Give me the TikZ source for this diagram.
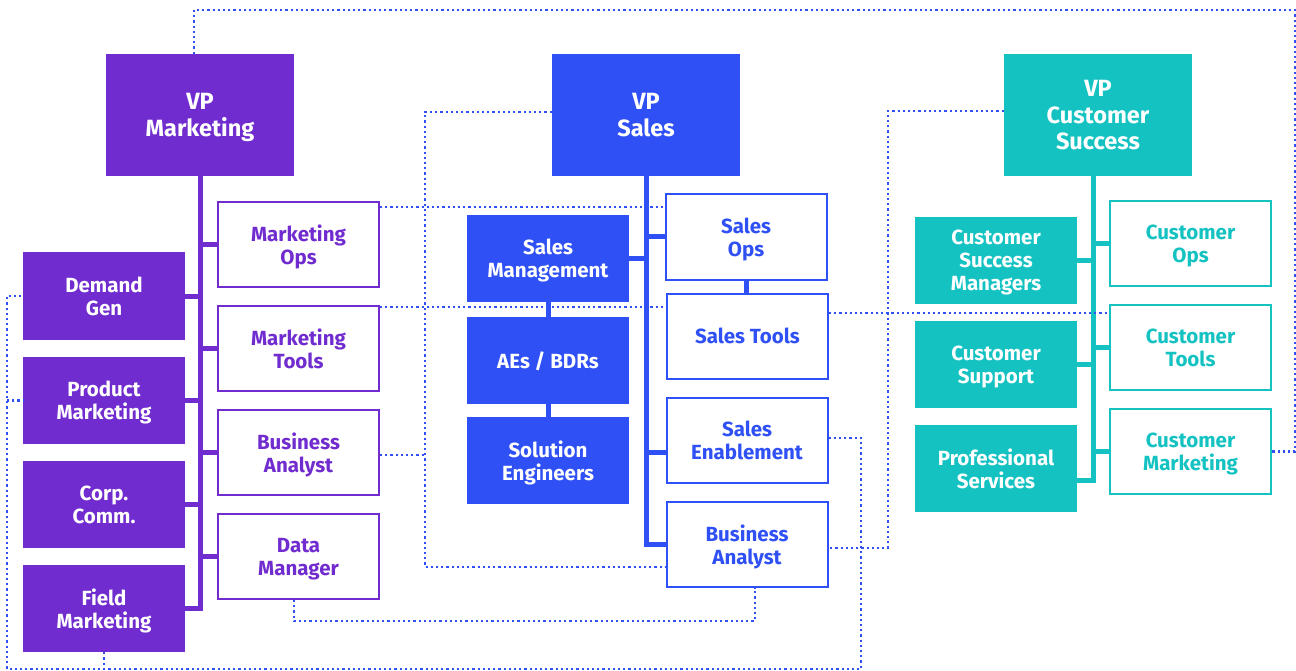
\documentclass[tikz,border=0pt]{standalone}
\usepackage{fontspec}
\setmainfont{Fira Sans}
\definecolor{mktpurple}{HTML}{712CCF}
\definecolor{salesblue}{HTML}{2F50F5}
\definecolor{csteal}{HTML}{14C2C2}
\tikzset{
  box/.style={
    minimum width=162pt,minimum height=87pt,inner sep=0pt,align=center,
    text depth=-10pt,
    font=\bfseries\fontsize{20.5}{23}\selectfont
  },
  head/.style={box,fill=#1,text=white,minimum width=188pt,minimum height=122pt,
    font=\bfseries\fontsize{23.5}{26.5}\selectfont},
  team/.style={box,fill=#1,text=white},
  desk/.style={box,draw=#1,line width=2pt,fill=white,text=#1,
    minimum width=161pt,minimum height=85pt},
  link/.style={draw=#1,line width=5pt},
  dotline/.style={salesblue,line width=2.5pt,dash pattern=on 2.2pt off 3pt},
}

\begin{document}
\begin{tikzpicture}[x=1pt,y=-1pt]
\useasboundingbox (0,0) rectangle (1296,671);

% marketing
\node[head=mktpurple] (vpmkt) at (200,115) {VP\\Marketing};
\node[team=mktpurple] (demand) at (104,296) {Demand\\Gen};
\node[team=mktpurple] (product) at (104,400.5) {Product\\Marketing};
\node[team=mktpurple] (corp) at (104,504.5) {Corp.\\Comm.};
\node[team=mktpurple] (field) at (104,608.5) {Field\\Marketing};
\node[desk=mktpurple] (mops) at (298.5,244.5) {Marketing\\Ops};
\node[desk=mktpurple] (mtools) at (298.5,348.5) {Marketing\\Tools};
\node[desk=mktpurple] (mba) at (298.5,452.5) {Business\\Analyst};
\node[desk=mktpurple] (data) at (298.5,556.5) {Data\\Manager};

% sales
\node[head=salesblue] (vpsales) at (646,115) {VP\\Sales};
\node[team=salesblue] (smgmt) at (548,258.5) {Sales\\Management};
\node[team=salesblue] (aes) at (548,360.5) {AEs / BDRs};
\node[team=salesblue] (soleng) at (548,460.5) {Solution\\Engineers};
\node[desk=salesblue] (sops) at (746,237) {Sales\\Ops};
\node[desk=salesblue] (stools) at (747.5,336) {Sales Tools};
\node[desk=salesblue] (senab) at (747,440) {Sales\\Enablement};
\node[desk=salesblue] (sba) at (747,544.5) {Business\\Analyst};

% customer success
\node[head=csteal] (vpcs) at (1098,115) {VP\\Customer\\Success};
\node[team=csteal] (csm) at (996,260.5) {Customer\\Success\\Managers};
\node[team=csteal] (csup) at (996,364.5) {Customer\\Support};
\node[team=csteal] (prof) at (996,468.5) {Professional\\Services};
\node[desk=csteal] (cops) at (1190.5,243.5) {Customer\\Ops};
\node[desk=csteal] (ctools) at (1190.5,347.5) {Customer\\Tools};
\node[desk=csteal] (cmkt) at (1190.5,451.5) {Customer\\Marketing};

% reporting lines
\draw[link=mktpurple] (vpmkt) -- (vpmkt |- field) -- (field);
\foreach \n in {demand,product,corp,mops,mtools,mba,data}
  \draw[link=mktpurple] (vpmkt |- \n) -- (\n);

\path (senab.west) ++(0,12) coordinate (senabin);
\draw[link=salesblue] (vpsales) -- (vpsales |- sba) -- (sba);
\foreach \n in {smgmt,sops,senabin}
  \draw[link=salesblue] (vpsales |- \n) -- (\n);
\draw[link=salesblue] (smgmt) -- (aes);
\draw[link=salesblue] (aes) -- (soleng);
\draw[link=salesblue] (sops.south) -- (sops.south |- stools.north);

\path (vpcs.south) ++(-4.5,0) coordinate (cstop);
\path (prof.east) ++(0,11.5) coordinate (profin);
\draw[link=csteal] (cstop) -- (cstop |- profin) -- (profin);
\foreach \n in {csm,csup,cops,ctools,cmkt}
  \draw[link=csteal] (cstop |- \n) -- (\n);

% dotted lines
\coordinate (topright) at (1295,10);
\coordinate (salesloop) at (425,567);
\coordinate (csloop) at (888,548);
\coordinate (dataloop) at (755,621);
\coordinate (bottomright) at (861,669);
\coordinate (bottomleft) at (7,669);
\draw[dotline] ([xshift=-6pt]vpmkt.north) |- (topright) |- (cmkt.east);
\draw[dotline] ([yshift=3pt]vpsales.west) -| (salesloop) -- (salesloop -| sba.west);
\draw[dotline] ([yshift=4pt]vpcs.west) -| (csloop) -- (csloop -| sba.east);
\draw[dotline] (mops.east |- 0,207) -- (sops.west |- 0,207);
\draw[dotline] (mtools.east |- 0,307) -- (stools.west |- 0,307);
\draw[dotline] (stools.east |- 0,313) -- (ctools.west |- 0,313);
\draw[dotline] (mba.east |- 0,455) -- (salesloop |- 0,455);
\draw[dotline] (data.south -| 294,0) |- (dataloop) -- (dataloop |- sba.south);
\draw[dotline] ([yshift=2pt]senab.east) -| (bottomright) -- (bottomleft) |- (demand.west);
\draw[dotline] (bottomleft |- product.west) -- (product.west);
\draw[dotline] (field.south) -- (field.south |- bottomleft);
\end{tikzpicture}
\end{document}
